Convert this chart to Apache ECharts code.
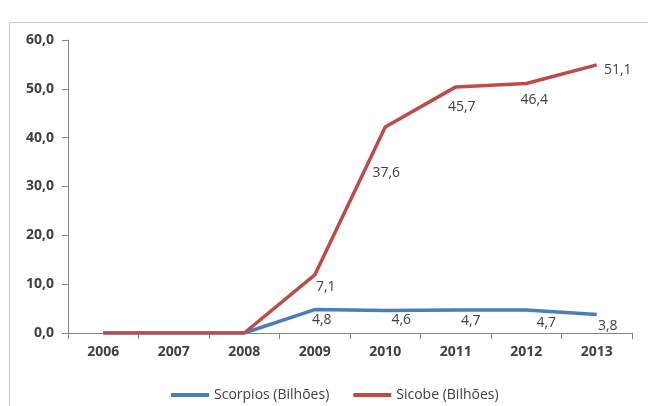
<!DOCTYPE html>
<html>
<head>
<meta charset="utf-8">
<script src="https://cdn.jsdelivr.net/npm/echarts@6/dist/echarts.min.js"></script>
<style>
html,body{margin:0;padding:0;background:#fff;}
#c{width:648px;height:406px;}
</style>
</head>
<body>
<div id="c"></div>
<script>
const years = ['2006','2007','2008','2009','2010','2011','2012','2013'];
const scorpios = [0, 0, 0, 4.8, 4.6, 4.7, 4.7, 3.8];
const sicobe = [0, 0, 0, 7.1, 37.6, 45.7, 46.4, 51.1];
const seriesNames = ['Scorpios (Bilhões)', 'Sicobe (Bilhões)'];

// label placement (style only)
const scorpiosOffsets = [[0,0],[0,0],[0,0],[7,10],[16,9],[15,11],[20,13],[11,12]];
const sicobeOffsets = [[0,0],[0,0],[0,0],[11,12],[1,46],[6,20],[8,17],[21,5]];

const fmt = v => v.toFixed(1).replace('.', ',');

function items(vals, offs) {
  return vals.map((v, i) => ({
    value: v,
    label: { show: v > 0, offset: offs[i] }
  }));
}

const labelStyle = {
  position: 'inside',
  color: '#404040',
  fontFamily: 'Open Sans',
  fontSize: 14,
  formatter: p => fmt(p.value)
};

const chart = echarts.init(document.getElementById('c'));
chart.setOption({
  animation: false,
  backgroundColor: '#fff',
  graphic: [{
    type: 'rect',
    shape: { x: 9.5, y: 22.5, width: 700, height: 500 },
    style: { fill: 'none', stroke: '#c8c8c8', lineWidth: 1 },
    silent: true
  }],
  grid: { left: 68, right: 16, top: 40, bottom: 73 },
  legend: {
    left: 166,
    top: 383,
    itemWidth: 38,
    itemHeight: 4,
    itemGap: 24,
    icon: 'rect',
    textStyle: { fontFamily: 'Open Sans', fontSize: 14, color: '#404040' },
    data: seriesNames
  },
  xAxis: {
    type: 'category',
    data: years,
    boundaryGap: true,
    axisLine: { lineStyle: { color: '#868686', width: 1 } },
    axisTick: { show: true, length: 6, lineStyle: { color: '#868686' } },
    axisLabel: { margin: 12, fontFamily: 'Open Sans', fontWeight: 'bold', fontSize: 14, color: '#404040' },
    splitLine: { show: false }
  },
  yAxis: {
    type: 'value',
    min: 0, max: 60, interval: 10,
    axisLine: { show: true, lineStyle: { color: '#868686', width: 1 } },
    axisTick: { show: true, length: 6, lineStyle: { color: '#868686' } },
    axisLabel: { margin: 14, fontFamily: 'Open Sans', fontWeight: 'bold', fontSize: 14, color: '#404040', formatter: v => fmt(v) },
    splitLine: { show: false }
  },
  series: [
    {
      name: seriesNames[0],
      type: 'line',
      stack: 'total',
      data: items(scorpios, scorpiosOffsets),
      symbol: 'circle',
      symbolSize: 0.1,
      showSymbol: true,
      color: '#4a7ebb',
      lineStyle: { width: 3.5, color: '#4a7ebb' },
      itemStyle: { color: '#4a7ebb' },
      label: labelStyle
    },
    {
      name: seriesNames[1],
      type: 'line',
      stack: 'total',
      data: items(sicobe, sicobeOffsets),
      symbol: 'circle',
      symbolSize: 0.1,
      showSymbol: true,
      color: '#be4b48',
      lineStyle: { width: 3.5, color: '#be4b48' },
      itemStyle: { color: '#be4b48' },
      label: labelStyle
    }
  ]
});
</script>
</body>
</html>
